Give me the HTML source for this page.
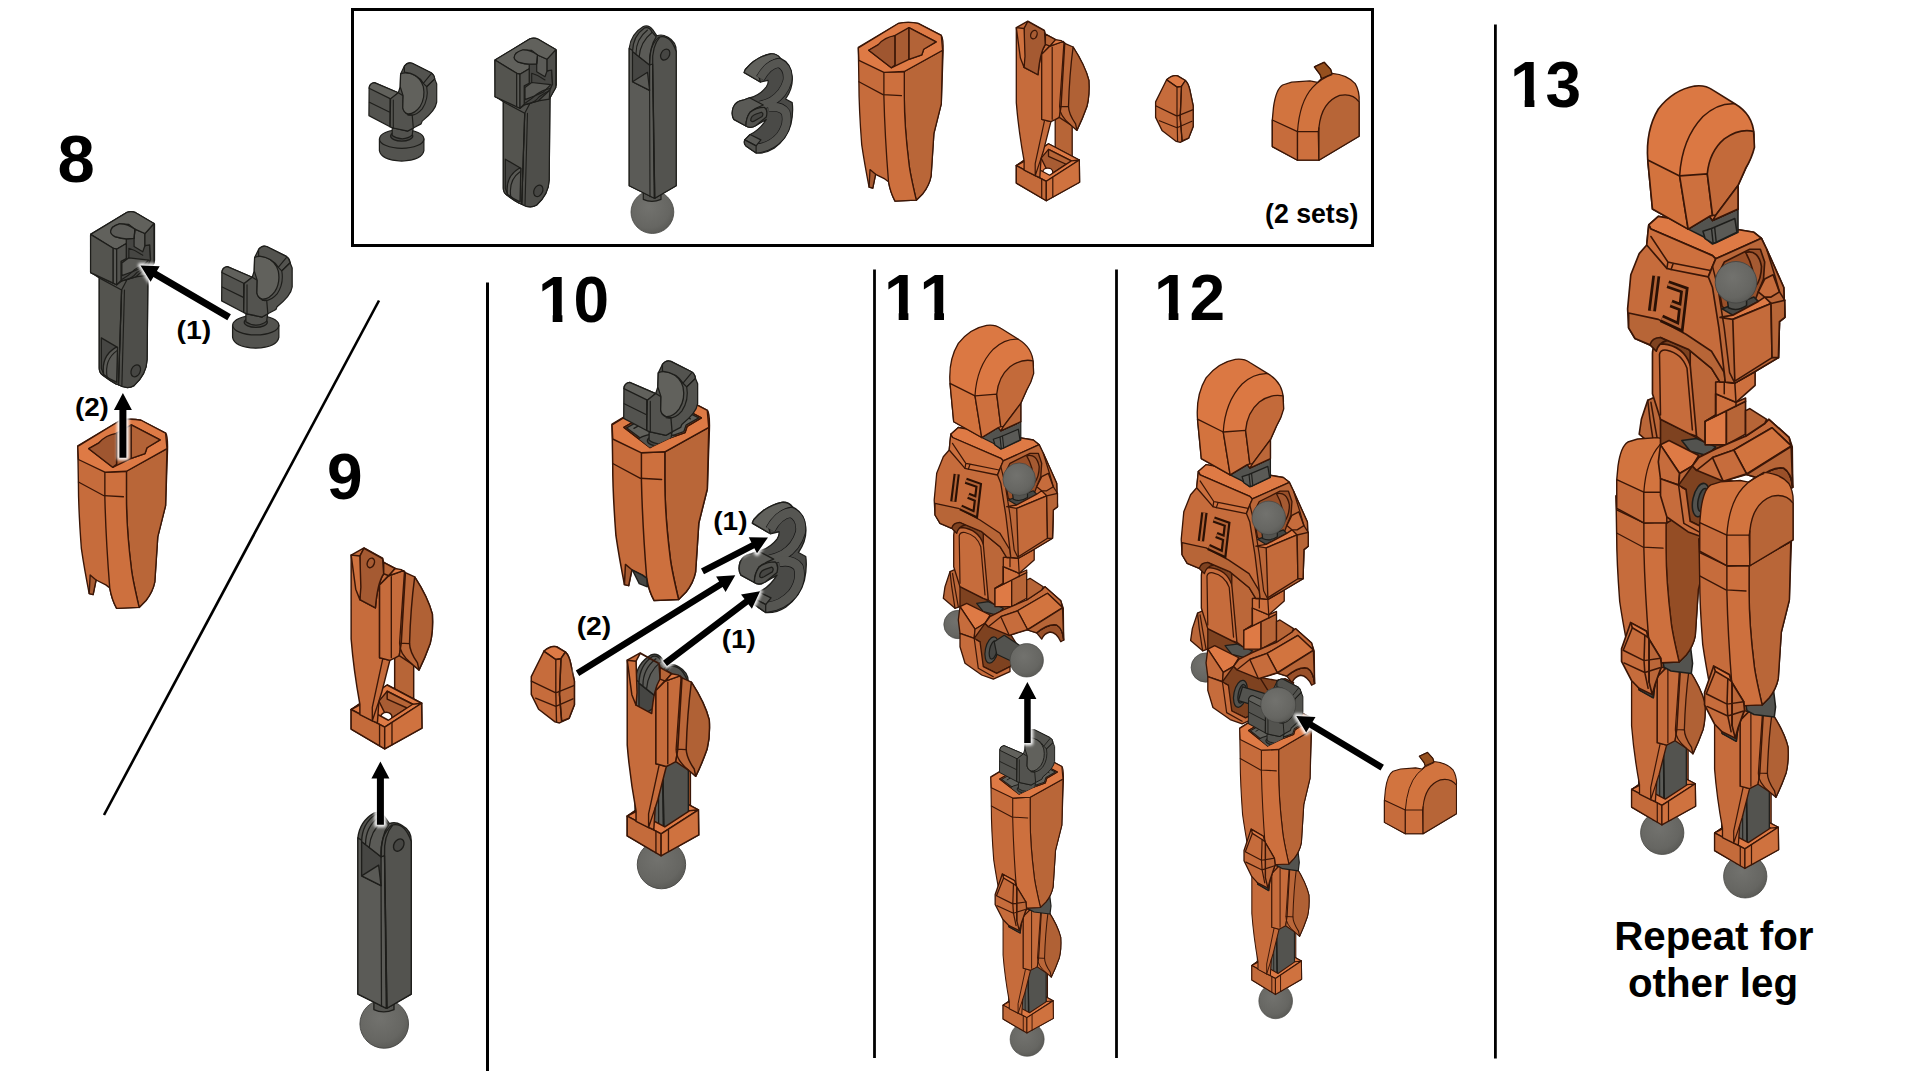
<!DOCTYPE html>
<html><head><meta charset="utf-8"><title>Assembly steps 8-13</title>
<style>
html,body{margin:0;padding:0;background:#fff;}
body{width:1920px;height:1080px;overflow:hidden;}
svg{display:block;}
text{font-family:"Liberation Sans",sans-serif;font-weight:bold;fill:#000;}
.num{font-size:64px;font-kerning:none;}
.lab{font-size:27.5px;}
.lab2{font-size:25.5px;}
.rep{font-size:40.3px;}
.o{fill:#c66c3c;stroke:#3a1607;stroke-width:1.3;stroke-linejoin:round;}
.ol{fill:#de7a45;stroke:#3a1607;stroke-width:1.3;stroke-linejoin:round;}
.od{fill:#a85c33;stroke:#3a1607;stroke-width:1.3;stroke-linejoin:round;}
.g{fill:#53534f;stroke:#1e1e1b;stroke-width:1.2;stroke-linejoin:round;}
.gl{fill:#61615c;stroke:#1e1e1b;stroke-width:1.2;stroke-linejoin:round;}
.gd{fill:#464643;stroke:#1e1e1b;stroke-width:1.2;stroke-linejoin:round;}
.ln{fill:none;stroke:#3a1607;stroke-width:1.2;stroke-linecap:round;stroke-linejoin:round;}
.lg{fill:none;stroke:#1e1e1b;stroke-width:1.1;stroke-linecap:round;stroke-linejoin:round;}
.ar{stroke:#000;stroke-width:5;fill:none;}
</style></head><body>
<svg width="1920" height="1080" viewBox="0 0 1920 1080">
<defs>
<radialGradient id="ball" cx="0.42" cy="0.38" r="0.65">
<stop offset="0" stop-color="#72726e"/><stop offset="0.75" stop-color="#666662"/><stop offset="1" stop-color="#5a5a56"/>
</radialGradient>
<marker id="ah" markerUnits="userSpaceOnUse" markerWidth="30" markerHeight="30" refX="6" refY="12" orient="auto"><path d="M0,0 L24,12 L0,24 Z" fill="#000"/></marker>
<filter id="glow" x="-30%" y="-30%" width="160%" height="160%"><feGaussianBlur stdDeviation="1.6"/></filter>
<clipPath id="c10"><path clip-rule="evenodd" d="M 0 0 H 1920 V 1080 H 0 Z M 540.0 314.3 H 552.7 V 324.0 H 540.0 Z M 562.4 314.3 H 575.0 V 324.0 H 562.4 Z"/></clipPath><clipPath id="c11"><path clip-rule="evenodd" d="M 0 0 H 1920 V 1080 H 0 Z M 886.0 312.3 H 898.7 V 322.0 H 886.0 Z M 908.4 312.3 H 921.0 V 322.0 H 908.4 Z M 921.6 312.3 H 934.3 V 322.0 H 921.6 Z M 944.0 312.3 H 956.6 V 322.0 H 944.0 Z"/></clipPath><clipPath id="c12"><path clip-rule="evenodd" d="M 0 0 H 1920 V 1080 H 0 Z M 1156.0 312.3 H 1168.7 V 322.0 H 1156.0 Z M 1178.4 312.3 H 1191.0 V 322.0 H 1178.4 Z"/></clipPath><clipPath id="c13"><path clip-rule="evenodd" d="M 0 0 H 1920 V 1080 H 0 Z M 1512.0 99.3 H 1524.7 V 109.0 H 1512.0 Z M 1534.4 99.3 H 1547.0 V 109.0 H 1534.4 Z"/></clipPath>
<g id="clip">
<path class="g" d="M 379.4 138.9 L 379.4 150.6 Q 381.1 160.0 401.7 161.1 Q 422.2 160.0 423.9 150.6 L 423.9 138.9 Z"/>
<ellipse class="g" cx="401.7" cy="138.9" rx="22.2" ry="9.4"/>
<ellipse class="gd" cx="401.7" cy="136.1" rx="11.1" ry="5.0"/>
<path class="g" d="M 392.2 127.8 L 392.2 135.6 Q 396.7 138.9 402.2 138.9 Q 408.9 138.3 412.2 135.0 L 413.3 126.7 Z"/>
<path class="g" d="M 369.1 88.3 Q 369.4 83.3 374.4 82.6 L 398.3 92.8 L 400.2 86.7 L 400.6 73.9 L 404.4 66.1 Q 407.8 61.7 412.2 63.3 L 431.1 72.8 Q 434.2 74.7 434.7 78.9 L 436.7 83.9 L 436.7 102.2 Q 435.6 110.6 422.2 121.1 L 421.1 123.9 L 413.3 128.0 L 407.8 131.1 L 393.3 128.0 L 390.0 126.7 L 368.9 115.6 Z"/>
<path class="gl" d="M 369.1 88.3 Q 369.4 83.3 374.4 82.6 L 398.3 92.8 L 390.6 98.9 Z"/>
<path class="g" d="M 390.6 98.9 L 398.3 92.8 L 403.1 95.8 L 402.8 107.8 Q 404.4 115.0 412.2 115.0 L 413.3 128.0 L 407.8 131.1 L 393.3 128.0 L 390.0 126.7 Z"/>
<path class="gl" d="M 400.6 73.9 Q 404.4 71.7 412.2 73.9 Q 420.6 77.8 423.3 86.7 Q 425.6 97.8 420.0 106.7 Q 414.4 114.4 407.8 113.9 Q 403.3 112.2 402.8 107.8 L 403.1 95.8 L 400.2 86.7 Z"/>
<path class="g" d="M 404.4 66.1 Q 407.8 61.7 412.2 63.3 L 431.1 72.8 Q 434.2 74.7 434.7 78.9 L 426.7 86.7 L 423.3 83.3 Q 417.8 73.9 404.4 72.2 Z"/>
<path class="lg" d="M 423.3 83.3 L 431.1 73.9 M 426.7 86.7 L 434.7 78.9 M 369.4 102.2 L 389.8 112.2 M 390.0 98.9 L 390.0 126.7 M 393.3 100.0 L 393.3 127.8 M 426.7 86.7 Q 428.9 98.9 422.2 108.9 Q 415.6 116.7 407.8 115.0"/>
</g>
<g id="bracket">
<path class="g" d="M 495.0 60.8 L 528.3 40.0 Q 533.3 37.5 538.3 40.0 L 556.3 50.3 L 556.3 85.0 L 550.0 96.7 L 549.2 180.0 Q 548.7 194.2 536.7 205.0 Q 530.0 209.2 521.7 204.2 L 519.2 203.3 Q 513.3 200.0 506.7 195.0 Q 503.3 192.5 503.3 188.3 L 503.3 101.7 L 495.8 96.7 Z"/>
<path class="g" d="M 524.7 113.3 L 530.0 103.3 L 550.0 95.0 L 549.2 180.0 Q 548.7 194.2 536.7 205.0 Q 530.0 209.2 521.7 204.2 Z"style="fill:#4e4e4a"/>
<path class="g" d="M 503.3 101.7 L 524.7 113.3 L 521.7 204.2 L 519.2 203.3 Q 513.3 200.0 506.7 195.0 Q 503.3 192.5 503.3 188.3 Z"style="fill:#54544f"/>
<path class="gd" d="M 505.3 159.2 L 520.8 168.3 L 520.0 201.7 Q 513.3 199.2 507.5 194.2 L 505.3 188.3 Z"/>
<path class="g" d="M 507.5 194.2 Q 505.0 176.7 519.2 168.3 L 520.8 168.3 L 520.0 201.7 Q 513.3 199.2 507.5 194.2 Z"style="fill:#5a5a56"/>
<path class="lg" d="M 510.8 196.7 Q 508.3 180.0 520.0 171.7 M 524.7 113.3 L 521.7 204.2 M 527.5 113.3 L 525.0 205.0"/>
<ellipse class="gd" cx="538.3" cy="190.8" rx="4.3" ry="6.0" transform="rotate(25 538.3 190.8)"/>
<path class="g" d="M 495.0 60.0 L 530.0 38.8 Q 534.2 37.3 538.3 39.2 L 555.8 49.6 L 555.8 87.5 L 549.2 99.2 L 538.3 100.8 L 525.0 104.6 L 520.0 108.3 L 516.7 106.7 L 495.0 96.7 Z"/>
<path class="gd" d="M 529.2 64.2 L 536.7 63.8 L 537.5 55.0 L 547.1 59.2 L 547.1 70.8 L 551.7 70.0 L 552.5 84.2 L 550.0 90.0 L 538.3 100.8 L 525.0 104.6 L 524.2 104.2 L 524.2 85.8 L 529.2 83.3 Z"/>
<path class="g" d="M 536.7 63.8 L 537.5 55.0 L 547.1 59.2 L 547.1 70.8 L 545.0 76.7 L 536.7 71.7 Z"style="fill:#5b5b57"/>
<path class="g" d="M 525.0 87.5 L 531.7 82.5 L 550.8 84.6 L 543.3 92.1 L 535.0 95.8 L 525.0 99.6 Z"style="fill:#5a5a56"/>
<path class="lg" d="M 525.0 103.3 Q 531.7 99.2 536.7 94.2 Q 542.5 90.0 550.8 88.3 M 526.7 104.2 Q 535.0 102.5 539.2 96.7 Q 545.0 92.5 550.8 90.0 M 531.7 82.5 L 531.7 73.3 Q 538.3 75.0 545.0 80.0"/>
<path class="g" d="M 547.1 59.2 L 555.8 49.6 L 555.8 87.5 L 549.2 99.2 L 550.0 90.0 L 552.5 84.2 L 551.7 70.0 L 547.1 70.8 Z"style="fill:#4e4e4a"/>
<path class="gl" d="M 495.0 60.0 L 530.0 38.8 Q 534.2 37.3 538.3 39.2 L 555.8 49.6 L 547.1 59.2 L 537.5 55.0 L 531.7 50.4 L 522.5 50.0 L 515.8 53.3 L 514.2 57.5 L 518.3 62.1 L 525.0 63.8 L 529.2 64.2 L 529.2 68.8 L 520.0 74.2 L 516.7 73.3 Z"/>
<path class="g" d="M 514.2 57.5 Q 514.2 52.5 522.5 50.0 Q 530.0 49.6 537.5 55.0 L 536.7 63.8 L 529.2 64.2 Q 525.0 64.2 518.3 62.1 Q 514.2 60.0 514.2 57.5 Z"style="fill:#5b5b57"/>
<path class="lg" d="M 536.7 63.8 L 537.5 55.0"/>
<path class="g" d="M 495.0 60.0 L 516.7 73.3 L 516.7 106.7 L 495.0 96.7 Z"style="fill:#54544f"/>
<path class="g" d="M 516.7 73.3 L 520.0 74.2 L 520.0 108.3 L 516.7 106.7 Z"style="fill:#5a5a56"/>
<path class="g" d="M 520.0 74.2 L 529.2 68.8 L 529.2 83.3 L 524.2 85.8 L 524.2 104.2 L 520.0 108.3 Z"style="fill:#53534f"/>
</g>
<g id="rod">
<circle cx="652.4" cy="212.1" r="21.4" fill="url(#ball)" stroke="#464643" stroke-width="0.8"/>
<path class="g" d="M 643.3 192.1 L 643.3 199.4 Q 651.7 203.5 661.0 199.4 L 661.0 192.1 Z"/>
<path class="g" d="M 629.2 48.3 Q 630.8 33.8 643.3 26.5 Q 648.5 24.4 652.7 29.6 L 656.9 35.8 Q 662.1 33.8 667.3 36.9 Q 676.7 42.1 676.2 51.5 L 676.2 185.8 L 654.8 198.3 L 629.2 185.8 Z"/>
<path class="g" d="M 629.2 48.3 L 632.5 50.4 L 649.6 65.0 L 652.7 64.0 L 654.2 198.3 L 629.2 185.8 Z"style="fill:#5b5b57"/>
<path class="g" d="M 652.7 64.0 Q 651.7 46.2 660.0 36.9 Q 670.4 34.8 676.2 51.5 L 676.2 185.8 L 654.8 198.3 Z"style="fill:#53534f"/>
<path class="gd" d="M 632.5 51.5 L 649.6 65.0 L 649.6 90.4 L 632.5 81.7 Z"/>
<path class="gl" d="M 632.5 81.7 L 647.5 72.3 L 649.6 90.4 Z"style="fill:#5a5a56"/>
<path class="gl" d="M 632.5 51.5 Q 632.9 35.8 644.4 27.9 Q 649.6 26.5 651.7 31.7 L 656.2 36.9 Q 649.6 46.2 649.6 65.0 Z"style="fill:#5b5b57"/>
<path class="lg" d="M 636.0 53.5 Q 636.0 39.0 647.5 30.0 M 639.2 56.7 Q 640.2 42.1 651.7 32.7 M 649.6 65.0 Q 648.5 46.2 659.0 36.9 M 654.8 198.3 L 652.7 64.0 M 650.0 196.7 L 649.6 90.4"/>
<ellipse class="gd" cx="665.2" cy="54.6" rx="4.2" ry="5.8" transform="rotate(30 665.2 54.6)"/>
</g>
<g id="three">
<path class="gd" d="M 744.1 72.5 L 745.3 69.5 Q 756.1 56.8 770.5 53.8 Q 776.6 53.2 780.2 58.0 Q 791.0 62.9 792.2 76.1 Q 793.4 88.1 785.6 99.0 L 792.2 102.6 Q 793.6 112.2 791.0 124.2 Q 787.4 138.7 774.1 148.3 Q 765.7 153.7 756.1 153.1 L 745.9 145.9 Q 743.5 143.5 744.7 139.9 L 750.1 134.5 Q 759.7 130.2 766.3 119.4 L 756.1 125.4 Q 750.1 129.0 745.9 126.0 L 733.8 119.4 Q 730.8 114.6 733.2 107.4 Q 735.6 101.4 742.9 100.2 L 749.5 97.8 Q 759.7 95.3 766.3 86.9 Q 768.7 83.3 768.1 80.3 L 760.3 82.1 L 744.7 73.1 Z"style="fill:#4a4a47"/>
<path class="gl" d="M 744.1 72.5 L 745.3 69.5 Q 756.1 56.8 770.5 53.8 Q 776.6 53.2 780.2 58.0 Q 768.1 59.3 758.5 74.9 L 760.3 82.1 Z"/>
<path d="M 760.3 78.3 Q 768.1 64.1 779.0 62.9 Q 789.2 67.7 787.4 80.9 Q 783.8 94.1 771.7 101.4 Q 765.7 104.4 759.7 105.6" fill="none" stroke="#151515" stroke-width="9.4" stroke-linecap="butt" stroke-linejoin="round"/>
<path d="M 768.1 107.4 Q 780.2 105.0 785.6 112.2 Q 789.2 124.2 780.2 136.3 Q 770.5 147.1 757.3 148.3 L 751.3 144.7" fill="none" stroke="#151515" stroke-width="9.4" stroke-linecap="butt" stroke-linejoin="round"/>
<path d="M 760.3 78.3 Q 768.1 64.1 779.0 62.9 Q 789.2 67.7 787.4 80.9 Q 783.8 94.1 771.7 101.4 Q 765.7 104.4 759.7 105.6" fill="none" stroke="#565652" stroke-width="8.2" stroke-linecap="butt" stroke-linejoin="round"/>
<path d="M 768.1 107.4 Q 780.2 105.0 785.6 112.2 Q 789.2 124.2 780.2 136.3 Q 770.5 147.1 757.3 148.3 L 751.3 144.7" fill="none" stroke="#565652" stroke-width="8.2" stroke-linecap="butt" stroke-linejoin="round"/>
<path class="g" d="M 733.8 119.4 Q 730.8 114.6 733.2 107.4 Q 735.6 101.4 742.9 100.2 L 749.5 97.8 L 763.3 105.0 Q 756.1 107.4 750.1 112.2 Q 745.9 118.2 745.9 126.0 Z"style="fill:#5a5a56"/>
<path class="g" d="M 745.9 126.0 Q 745.9 118.2 750.1 112.2 Q 756.1 107.4 764.5 107.4 Q 768.1 109.8 766.3 117.0 L 756.1 125.4 Q 750.1 129.0 745.9 126.0 Z"/>
<path class="gd" d="M 750.7 120.6 Q 750.7 115.8 756.1 114.0 L 761.5 112.2 Q 763.9 113.4 762.1 116.4 L 756.1 120.0 Q 751.9 123.0 750.7 120.6 Z"/>
<path class="gl" d="M 744.7 139.9 L 750.1 134.5 L 760.9 139.9 L 756.1 145.9 Z"style="fill:#5a5a56"/>
<path class="g" d="M 744.7 139.9 L 756.1 145.9 L 756.1 153.1 L 745.9 145.9 Q 743.5 143.5 744.7 139.9 Z"/>
</g>
<g id="thigh">
<path class="o" d="M 858.3 47.4 L 898.7 23.3 Q 908.0 21.5 918.1 23.3 L 941.3 35.4 Q 943.5 38.1 943.1 52.0 L 941.3 103.9 Q 937.6 118.7 933.9 133.5 L 931.1 176.1 Q 929.3 185.4 922.8 193.7 L 916.3 200.2 L 895.0 201.1 Q 890.4 192.8 888.5 181.7 L 884.8 178.9 L 875.6 174.3 L 872.8 188.1 L 869.1 187.2 Q 864.4 163.1 861.7 144.6 Q 858.9 107.6 858.9 83.5 Z"/>
<path class="od" d="M 870.0 169.6 L 875.6 174.3 L 872.8 188.1 L 869.1 187.2 Z"/>
<path class="o" d="M 904.3 71.5 L 942.6 50.2 L 941.3 103.9 Q 937.6 118.7 933.9 133.5 L 931.1 176.1 Q 929.3 185.4 922.8 193.7 L 916.3 200.2 Q 909.8 172.4 908.9 163.1 Q 904.3 126.1 904.3 96.5 Z"style="fill:#b96638"/>
<path class="o" d="M 883.9 72.4 L 904.3 71.5 L 904.3 96.5 Q 904.3 126.1 908.9 163.1 Q 909.8 172.4 916.3 200.2 L 895.0 201.1 Q 890.4 192.8 888.5 181.7 Q 884.8 135.4 883.9 96.5 Z"style="fill:#cd703e"/>
<path class="ol" d="M 858.3 48.0 L 898.7 23.3 Q 908.0 21.5 918.1 23.3 L 941.3 35.4 L 942.6 50.2 L 904.3 71.5 L 883.9 72.4 L 858.9 60.4 Z"/>
<path class="od" d="M 868.7 50.2 L 908.9 27.6 L 936.1 41.9 L 923.7 49.3 L 921.9 54.8 L 908.9 59.4 L 891.3 67.8 Z"/>
<path class="o" d="M 908.9 27.6 L 936.1 41.9 L 923.7 49.3 L 921.9 54.8 L 908.9 59.4 Z"style="fill:#b36337"/>
<path class="od" d="M 868.7 50.2 L 878.3 44.6 Q 884.8 37.2 895.0 35.7 L 895.0 65.0 L 891.3 67.8 Z"style="fill:#9f5630"/>
<path class="ln" d="M 858.9 81.7 L 883.0 94.6 L 901.5 95.6 M 895.0 35.7 L 895.0 65.0 M 908.9 27.6 L 908.9 59.4"/>
</g>
<g id="athigh_clipdef">
<clipPath id="cpthigh"><path d="M 808.0 -77.6 L 993.1 -77.6 L 993.1 40.9 L 936.1 41.9 L 923.7 49.3 L 921.9 54.8 L 908.9 59.4 L 891.3 67.8 L 868.7 50.2 L 808.0 50.2 Z"/></clipPath>
</g>
<g id="athigh">
<use href="#thigh"/>
<path class="gl" d="M 870.9 50.6 L 908.9 29.4 L 933.9 42.0 L 922.8 48.3 L 920.9 53.9 L 908.9 58.0 L 891.3 65.9 Z"/>
<path class="lg" d="M 877.4 51.1 L 908.9 33.5 L 926.5 42.8"/>
<path class="gd" d="M 876.1 174.6 L 884.8 178.9 L 888.5 181.7 L 889.1 189.1 L 882.0 186.3 Z"/>
<g clip-path="url(#cpthigh)"><use href="#clip" transform="translate(518 -67.4) scale(0.95)"/></g>
</g>
<g id="thigh_rshade">
<path class="o" d="M 904.3 71.5 L 942.6 50.2 L 941.3 103.9 Q 937.6 118.7 933.9 133.5 L 931.1 176.1 Q 929.3 185.4 922.8 193.7 L 916.3 200.2 Q 909.8 172.4 908.9 163.1 Q 904.3 126.1 904.3 96.5 Z"style="fill:#5a2508;fill-opacity:0.38;stroke:none"/>
</g>
<g id="shin">
<path class="o" d="M 1055.2 113.7 L 1072.2 121.1 L 1072.2 158.1 L 1055.2 150.7 Z"style="fill:#b76537"/>
<path class="o" d="M 1016.3 165.6 L 1048.5 143.7 L 1079.3 160.0 L 1079.6 182.2 L 1046.3 200.7 L 1016.3 183.1 Z"/>
<path class="ol" d="M 1016.3 165.6 L 1048.5 143.7 L 1079.3 160.0 L 1046.3 181.3 Z"/>
<path class="od" d="M 1041.1 158.1 L 1048.5 149.3 L 1071.3 160.9 L 1049.6 175.2 Z"/>
<path class="o" d="M 1048.5 149.3 L 1071.3 160.9 L 1071.3 166.5 L 1048.5 156.3 Z"style="fill:#b76537"/>
<ellipse class="o" cx="1047.8" cy="172.2" rx="5.0" ry="4.1" style="fill:#fff"/>
<path class="ol" d="M 1016.3 165.6 L 1046.3 181.3 L 1079.3 160.0 L 1071.3 160.9 L 1049.6 175.2 L 1024.1 161.5 Z"/>
<path class="o" d="M 1016.3 165.6 L 1046.3 181.3 L 1046.3 200.7 L 1016.3 183.1 Z"style="fill:#c46b3b"/>
<path class="o" d="M 1046.3 181.3 L 1079.3 160.0 L 1079.6 182.2 L 1046.3 200.7 Z"style="fill:#cf723f"/>
<path class="ln" d="M 1052.8 177.6 L 1052.8 197.0 M 1041.7 178.9 L 1041.7 198.0"/>
<path class="o" d="M 1016.3 27.6 L 1027.8 21.1 L 1044.4 30.4 L 1045.4 34.1 L 1055.6 39.6 L 1041.7 54.4 L 1041.7 119.3 L 1050.9 121.7 L 1043.5 150.7 L 1041.1 158.1 L 1039.8 177.6 L 1035.2 175.7 L 1024.1 170.2 L 1024.1 160.9 Q 1018.5 130.4 1016.3 102.6 Z M 1024.1 28.5 L 1027.8 21.5 L 1044.4 30.7 L 1045.4 44.3 Q 1039.8 52.6 1038.0 74.8 L 1024.1 67.4 Z"fill-rule="evenodd"/>
<path class="od" d="M 1024.1 28.5 L 1027.8 21.5 L 1044.4 30.7 L 1045.4 44.3 Q 1039.8 52.6 1038.0 74.8 L 1024.1 67.4 Z"style="fill:#a55a32"/>
<ellipse class="od" cx="1033.9" cy="34.6" rx="3.1" ry="4.4" transform="rotate(20 1033.9 34.6)"/>
<path class="o" d="M 1016.3 27.6 L 1024.1 28.5 L 1025.0 56.3 L 1024.1 67.4 L 1020.4 58.1 Z"style="fill:#cf723f"/>
<path class="o" d="M 1045.4 34.1 L 1055.6 39.6 L 1050.0 46.1 L 1045.4 44.3 Z"style="fill:#b76537"/>
<path class="o" d="M 1041.7 54.4 L 1050.0 46.1 L 1063.0 41.5 L 1064.8 43.3 L 1061.1 106.3 L 1059.3 117.4 L 1055.2 119.6 L 1050.9 121.7 L 1041.7 119.3 Z"style="fill:#c66c3c"/>
<path class="ol" d="M 1050.0 46.1 L 1055.6 39.6 L 1061.1 40.6 L 1064.8 43.3 L 1063.0 41.5 Z"/>
<path class="o" d="M 1064.8 43.3 L 1073.1 47.0 Q 1085.2 65.6 1088.9 80.4 Q 1089.8 95.2 1087.0 106.3 Q 1082.4 119.3 1076.9 130.4 L 1070.4 124.8 L 1059.3 117.4 L 1061.1 106.3 Z"style="fill:#bb6739"/>
<path class="od" d="M 1073.1 47.0 Q 1085.2 65.6 1088.9 80.4 Q 1089.8 95.2 1087.0 106.3 Q 1082.4 119.3 1076.9 130.4 L 1075.6 123.9 Q 1068.5 113.7 1068.5 106.3 Q 1069.4 74.8 1073.1 47.0 Z"style="fill:#b06135"/>
<path class="ln" d="M 1052.2 47.0 L 1052.2 119.3 M 1063.9 43.3 L 1059.6 106.3 L 1068.5 106.7 M 1059.6 106.3 Q 1059.3 115.6 1070.4 124.8 M 1041.1 158.1 L 1035.2 175.7 M 1044.4 121.1 L 1035.2 163.7 L 1035.2 175.7"/>
</g>
<g id="ashin">
<path class="o" d="M 1055.2 113.7 L 1072.2 121.1 L 1072.2 158.1 L 1055.2 150.7 Z"style="fill:#b76537"/>
<path class="o" d="M 1016.3 165.6 L 1048.5 143.7 L 1079.3 160.0 L 1079.6 182.2 L 1046.3 200.7 L 1016.3 183.1 Z"/>
<path class="ol" d="M 1016.3 165.6 L 1048.5 143.7 L 1079.3 160.0 L 1046.3 181.3 Z"/>
<path class="od" d="M 1041.1 158.1 L 1048.5 149.3 L 1071.3 160.9 L 1049.6 175.2 Z"/>
<path class="o" d="M 1048.5 149.3 L 1071.3 160.9 L 1071.3 166.5 L 1048.5 156.3 Z"style="fill:#b76537"/><use href="#rod" transform="translate(394.2 -3.6)"/><path class="ol" d="M 1016.3 165.6 L 1046.3 181.3 L 1079.3 160.0 L 1071.3 160.9 L 1049.6 175.2 L 1024.1 161.5 Z"/>
<path class="o" d="M 1016.3 165.6 L 1046.3 181.3 L 1046.3 200.7 L 1016.3 183.1 Z"style="fill:#c46b3b"/>
<path class="o" d="M 1046.3 181.3 L 1079.3 160.0 L 1079.6 182.2 L 1046.3 200.7 Z"style="fill:#cf723f"/>
<path class="ln" d="M 1052.8 177.6 L 1052.8 197.0 M 1041.7 178.9 L 1041.7 198.0"/>
<path class="o" d="M 1016.3 27.6 L 1027.8 21.1 L 1044.4 30.4 L 1045.4 34.1 L 1055.6 39.6 L 1041.7 54.4 L 1041.7 119.3 L 1050.9 121.7 L 1043.5 150.7 L 1041.1 158.1 L 1039.8 177.6 L 1035.2 175.7 L 1024.1 170.2 L 1024.1 160.9 Q 1018.5 130.4 1016.3 102.6 Z M 1024.1 28.5 L 1027.8 21.5 L 1044.4 30.7 L 1045.4 44.3 Q 1039.8 52.6 1038.0 74.8 L 1024.1 67.4 Z"fill-rule="evenodd"/>
<path class="o" d="M 1016.3 27.6 L 1024.1 28.5 L 1025.0 56.3 L 1024.1 67.4 L 1020.4 58.1 Z"style="fill:#cf723f"/>
<path class="o" d="M 1045.4 34.1 L 1055.6 39.6 L 1050.0 46.1 L 1045.4 44.3 Z"style="fill:#b76537"/>
<path class="o" d="M 1041.7 54.4 L 1050.0 46.1 L 1063.0 41.5 L 1064.8 43.3 L 1061.1 106.3 L 1059.3 117.4 L 1055.2 119.6 L 1050.9 121.7 L 1041.7 119.3 Z"style="fill:#c66c3c"/>
<path class="ol" d="M 1050.0 46.1 L 1055.6 39.6 L 1061.1 40.6 L 1064.8 43.3 L 1063.0 41.5 Z"/>
<path class="o" d="M 1064.8 43.3 L 1073.1 47.0 Q 1085.2 65.6 1088.9 80.4 Q 1089.8 95.2 1087.0 106.3 Q 1082.4 119.3 1076.9 130.4 L 1070.4 124.8 L 1059.3 117.4 L 1061.1 106.3 Z"style="fill:#bb6739"/>
<path class="od" d="M 1073.1 47.0 Q 1085.2 65.6 1088.9 80.4 Q 1089.8 95.2 1087.0 106.3 Q 1082.4 119.3 1076.9 130.4 L 1075.6 123.9 Q 1068.5 113.7 1068.5 106.3 Q 1069.4 74.8 1073.1 47.0 Z"style="fill:#b06135"/>
<path class="ln" d="M 1052.2 47.0 L 1052.2 119.3 M 1063.9 43.3 L 1059.6 106.3 L 1068.5 106.7 M 1059.6 106.3 Q 1059.3 115.6 1070.4 124.8 M 1041.1 158.1 L 1035.2 175.7 M 1044.4 121.1 L 1035.2 163.7 L 1035.2 175.7"/>
</g>
<g id="knee">
<path class="o" d="M 1155.6 101.9 L 1166.6 79.8 Q 1172.4 74.6 1177.6 75.9 L 1185.4 80.5 Q 1188.6 83.7 1189.9 90.2 L 1193.2 105.8 L 1193.2 126.5 L 1188.6 138.2 L 1180.2 142.3 L 1176.3 141.4 L 1162.0 130.4 L 1155.6 117.4 Z"/>
<path class="ol" d="M 1166.6 79.8 Q 1172.4 74.6 1177.6 75.9 L 1185.4 80.5 L 1181.5 86.3 L 1177.0 87.0 Z"/>
<path class="o" d="M 1181.5 86.3 L 1185.4 80.5 Q 1188.6 83.7 1189.9 90.2 L 1193.2 105.8 L 1193.2 126.5 L 1188.6 138.2 L 1182.1 140.8 L 1180.2 117.4 Z"style="fill:#bb6739"/>
<path class="ln" d="M 1155.6 105.8 L 1177.0 116.1 L 1193.2 109.6 M 1159.4 120.7 L 1177.0 127.8 L 1191.9 121.3 M 1177.0 87.0 L 1177.0 116.1 L 1177.6 141.4 M 1181.5 86.3 L 1180.2 117.4 L 1182.1 140.8 M 1166.6 79.8 L 1177.0 87.0 L 1181.5 86.3"/>
</g>
<g id="hipcap">
<path class="o" d="M 1272.3 120.0 L 1273.5 107.1 Q 1276.1 88.9 1282.6 85.0 L 1291.7 82.2 L 1309.9 80.9 L 1317.6 82.4 L 1321.5 78.5 L 1320.2 74.6 L 1314.4 66.9 L 1324.1 62.3 L 1330.6 69.4 L 1331.9 73.3 Q 1347.5 74.6 1355.2 83.7 Q 1359.8 91.5 1359.1 101.9 L 1359.1 136.2 L 1318.9 160.2 L 1297.5 160.2 L 1272.3 146.6 Z"style="fill:#d2743f"/>
<path class="od" d="M 1314.4 66.9 L 1324.1 62.3 L 1330.6 69.4 L 1331.9 74.0 L 1321.5 78.5 L 1320.2 74.6 Z"style="fill:#96501f"/>
<path class="o" d="M 1272.3 120.0 L 1297.5 131.7 L 1297.5 160.2 L 1272.3 146.6 Z"style="fill:#c66c3c"/>
<path class="o" d="M 1297.5 131.7 L 1318.3 131.7 L 1318.9 160.2 L 1297.5 160.2 Z"style="fill:#cd703e"/>
<path class="o" d="M 1318.9 160.2 L 1318.9 127.8 Q 1321.5 101.9 1339.7 95.4 Q 1352.6 92.8 1359.1 101.9 L 1359.1 136.2 Z"style="fill:#b76537"/>
<path class="ln" d="M 1297.5 131.7 Q 1299.5 101.9 1312.4 87.6 Q 1321.5 77.9 1331.9 74.6 M 1318.3 131.7 L 1318.9 127.8"/>
</g>
<g id="hipcap_nf">
<path class="o" d="M 1272.3 120.0 L 1273.5 107.1 Q 1276.1 88.9 1282.6 85.0 L 1291.7 82.2 L 1309.9 80.9 L 1317.6 82.4 L 1331.9 73.3 Q 1347.5 74.6 1355.2 83.7 Q 1359.8 91.5 1359.1 101.9 L 1359.1 136.2 L 1318.9 160.2 L 1297.5 160.2 L 1272.3 146.6 Z"style="fill:#d2743f"/>
<path class="o" d="M 1272.3 120.0 L 1297.5 131.7 L 1297.5 160.2 L 1272.3 146.6 Z"style="fill:#c66c3c"/>
<path class="o" d="M 1297.5 131.7 L 1318.3 131.7 L 1318.9 160.2 L 1297.5 160.2 Z"style="fill:#cd703e"/>
<path class="o" d="M 1318.9 160.2 L 1318.9 127.8 Q 1321.5 101.9 1339.7 95.4 Q 1352.6 92.8 1359.1 101.9 L 1359.1 136.2 Z"style="fill:#b76537"/>
<path class="ln" d="M 1297.5 131.7 Q 1299.5 101.9 1312.4 87.6 Q 1321.5 77.9 1331.9 74.6 M 1318.3 131.7 L 1318.9 127.8"/>
</g>
<g id="knee2">
<path class="gd" d="M 1257.6 880.3 L 1267.9 885.5 L 1269.9 880.3 L 1268.6 890.7 L 1257.6 884.2 Z"/>
<path class="o" d="M 1251.1 829.2 L 1263.4 836.3 L 1265.4 842.8 L 1274.4 858.3 L 1275.1 864.8 L 1269.9 880.3 L 1267.9 888.1 L 1257.6 882.9 L 1251.7 876.5 L 1244.0 860.9 L 1244.0 850.5 Z"/>
<path class="ol" d="M 1251.1 829.2 L 1263.4 836.3 L 1264.7 841.5 L 1262.1 839.5 L 1252.4 833.4 Z"/>
<path class="o" d="M 1265.4 842.8 L 1274.4 858.3 L 1275.1 864.8 L 1269.9 880.3 L 1267.9 888.1 L 1265.4 877.8 Z"style="fill:#bb6739"/>
<path class="ln" d="M 1245.3 851.8 L 1261.5 860.3 L 1274.4 858.3 M 1245.9 862.2 L 1262.1 870.0 L 1273.8 866.1 M 1262.1 839.5 L 1261.5 860.3 L 1262.1 870.0 L 1264.7 882.9 M 1265.4 842.8 L 1265.4 877.8 M 1252.4 833.4 L 1245.3 851.8"/>
</g>
<g id="torso_back">
<circle cx="958.0" cy="624.5" r="14.2" fill="url(#ball)" stroke="#464643" stroke-width="0.7"/>
<path class="o" d="M 950.0 571.7 L 957.5 568.3 L 960.0 586.7 L 965.0 593.3 L 960.0 606.7 L 955.0 608.3 L 943.3 598.3 L 945.0 586.7 Z"style="fill:#bb6739"/>
<path class="ln" d="M 952.5 573.3 L 955.0 588.3 L 958.3 606.7 M 950.0 571.7 L 951.7 586.7 L 955.0 608.3"/>
</g>
<g id="torso_wing">
<path class="o" d="M 950.0 571.7 L 957.5 568.3 L 960.0 586.7 L 965.0 593.3 L 960.0 606.7 L 955.0 608.3 L 943.3 598.3 L 945.0 586.7 Z"style="fill:#bb6739"/>
<path class="ln" d="M 952.5 573.3 L 955.0 588.3 L 958.3 606.7 M 950.0 571.7 L 951.7 586.7 L 955.0 608.3"/>
</g>
<g id="torso_under">
<path class="od" d="M 988.3 626.7 L 1006.7 633.3 L 1026.7 637.0 L 1035.0 635.3 L 1043.3 639.2 L 1038.3 653.3 L 1010.0 650.0 L 988.3 640.0 Z"style="fill:#7e4220"/>
</g>
<g id="hipball11">
<path class="g" d="M 994.2 641.7 L 1004.2 635.3 L 1021.7 646.7 L 1014.2 662.5 L 996.7 654.2 Z"/>
<circle cx="1026.7" cy="660.3" r="16.7" fill="url(#ball)" stroke="#464643" stroke-width="0.7"/>
</g>
<g id="torso_a">
<path class="od" d="M 960.0 586.7 L 983.3 598.3 L 995.0 605.0 L 1011.7 606.7 L 1026.7 600.0 L 1041.7 590.0 L 1026.7 606.7 L 1000.0 616.7 L 990.0 616.7 L 960.0 606.7 Z"style="fill:#7e4220"/>
<path class="g" d="M 976.7 603.3 L 988.3 601.7 L 1003.3 608.3 L 996.7 615.0 L 983.3 611.7 Z"/>
<path class="od" d="M 953.7 515.0 L 1013.3 533.3 L 1013.3 570.0 L 960.0 586.7 L 953.7 566.7 Z"style="fill:#7e4220;stroke:none"/>
<path class="o" d="M 953.7 535.0 Q 953.7 527.5 961.7 527.5 Q 978.3 529.2 983.3 544.2 L 988.3 556.7 L 988.3 600.0 L 983.3 598.3 L 960.0 586.7 L 953.7 566.7 Z"/>
<path class="ln" d="M 960.0 583.3 L 959.2 535.8 Q 960.0 531.7 965.0 532.5 Q 976.7 535.0 980.8 546.7 L 985.0 595.0"/>
<path class="o" d="M 983.3 544.2 L 983.3 525.0 L 1013.3 541.7 L 1013.3 566.7 L 1003.3 566.7 L 1003.3 583.3 L 995.0 588.3 L 995.0 605.0 L 988.3 600.0 Z"style="fill:#bb6739"/>
<path class="ol" d="M 995.0 588.3 L 1011.7 580.0 L 1011.7 606.7 L 995.0 606.7 Z"/>
<path class="o" d="M 1011.7 580.0 L 1026.7 572.5 L 1026.7 598.3 L 1011.7 606.7 Z"style="fill:#b76537"/>
<path class="o" d="M 1003.3 566.7 L 1019.2 573.3 L 1026.7 570.0 L 1026.7 572.5 L 1011.7 580.0 L 995.0 588.3 L 1003.3 583.3 Z"style="fill:#cd703e"/>
<path class="ln" d="M 1003.3 566.7 L 1003.3 583.3 M 1019.2 573.3 L 1019.2 576.7"/>
<path class="o" d="M 1010.0 556.7 L 1018.3 558.3 L 1034.2 549.2 L 1034.2 560.0 L 1019.2 573.3 L 1003.3 566.7 L 1003.3 557.5 Z"style="fill:#cd703e"/>
<path class="ln" d="M 1018.3 558.3 L 1019.2 573.3 M 1010.0 556.7 L 1010.0 566.7"/>
<path class="o" d="M 950.8 434.2 L 958.3 427.5 L 1033.3 440.0 L 1039.2 444.7 L 1043.3 453.3 L 1056.7 483.3 L 1057.5 506.7 L 1053.3 510.0 L 1052.5 538.3 L 1034.2 549.2 L 1018.3 558.3 L 1010.8 557.5 L 1006.7 557.5 L 1000.0 546.7 L 981.7 531.7 L 960.0 522.5 L 951.7 528.3 L 940.0 523.3 L 935.0 515.0 L 934.2 500.0 L 936.7 473.3 L 943.3 456.7 L 949.2 450.0 L 950.0 441.7 Z"/>
<path class="ol" d="M 950.8 434.2 L 958.3 427.5 L 1033.3 440.0 L 1039.2 444.7 L 1003.3 460.8 L 1000.8 458.3 L 952.5 437.5 Z"/>
<path class="o" d="M 950.8 434.2 L 952.5 437.5 L 1000.8 458.3 L 1003.3 460.8 L 1000.8 466.7 L 997.5 475.0 L 968.3 469.2 L 965.0 468.3 L 949.2 450.0 L 950.0 441.7 Z"style="fill:#cd703e"/>
<path class="ln" d="M 952.5 443.3 L 965.8 463.3 L 970.0 464.2 L 999.2 470.0 M 965.0 468.3 L 965.8 463.3 M 968.3 469.2 L 970.0 464.2"/>
<path class="o" d="M 935.0 503.3 L 958.3 508.3 L 980.0 520.0 L 1000.0 533.3 L 1010.0 550.0 L 1010.8 557.5 L 1006.7 557.5 L 1000.0 546.7 L 981.7 531.7 L 960.0 522.5 L 951.7 528.3 L 940.0 523.3 L 935.0 515.0 Z"style="fill:#b76537"/>
<path class="od" d="M 951.7 528.3 Q 953.3 522.5 960.0 522.5 L 965.0 525.0 Q 958.3 526.7 956.7 533.3 Z"style="fill:#7e4220"/>
<path class="o" d="M 1000.8 466.7 L 1003.3 460.8 L 1039.2 444.7 L 1043.3 453.3 L 1056.7 483.3 L 1057.5 506.7 L 1053.3 510.0 L 1052.5 538.3 L 1034.2 549.2 L 1018.3 558.3 L 1010.8 557.5 L 1010.0 550.0 L 1005.8 515.0 L 1000.8 483.3 L 997.5 475.0 Z"style="fill:#bb6739"/>
<path class="ln" d="M 1000.8 466.7 L 1005.0 483.3 L 1010.0 515.0 L 1014.2 550.0 L 1018.3 558.3"/>
<path class="od" d="M 1004.2 475.0 L 1010.0 463.3 L 1030.0 453.3 L 1038.3 453.3 L 1041.7 463.3 L 1040.8 476.7 L 1036.7 486.7 L 1034.2 493.3 L 1016.7 503.3 L 1008.3 498.3 Z"style="fill:#9a5029"/>
<path class="od" d="M 1026.7 455.8 Q 1036.7 453.3 1039.2 466.7 Q 1039.2 476.7 1034.2 483.3 Q 1033.3 466.7 1026.7 455.8 Z"style="fill:#a55a32"/>
<path class="gd" d="M 1008.3 500.0 L 1033.3 490.8 L 1036.7 494.2 L 1016.7 505.0 Z"/>
<path class="g" d="M 1012.5 493.3 L 1027.5 490.8 L 1027.5 497.5 Q 1020.0 502.5 1013.3 499.2 Z"/>
<circle cx="1019.2" cy="479.2" r="16.3" fill="url(#ball)" stroke="#464643" stroke-width="0.7"/>
<path class="ol" d="M 1006.7 506.7 L 1016.7 505.0 L 1036.7 494.2 L 1041.7 490.8 L 1046.7 495.8 L 1016.7 508.3 Z"/>
<path class="o" d="M 1016.7 508.3 L 1046.7 495.8 L 1047.5 538.3 L 1018.3 556.7 Z"style="fill:#c46b3b"/>
<path class="o" d="M 1046.7 495.8 L 1057.5 493.3 L 1057.5 506.7 L 1053.3 510.0 L 1052.5 538.3 L 1047.5 538.3 Z"style="fill:#b76537"/>
<path class="o" d="M 1041.7 476.7 L 1048.3 473.3 L 1053.3 486.7 L 1046.7 490.8 L 1041.7 490.8 L 1036.7 486.7 Z"style="fill:#c66c3c"/>
<path class="ln" d="M 1043.3 453.3 L 1050.0 475.0 L 1053.3 486.7 L 1057.5 493.3"/>
<path d="M 956.7 474.2 L 953.3 501.7" fill="none" stroke="#2a1004" stroke-width="6.3" stroke-linejoin="miter"/>
<path d="M 965.8 480.8 L 978.7 485.3 L 975.3 514.2 L 960.8 507.5 M 977.0 499.2 L 968.3 495.8" fill="none" stroke="#2a1004" stroke-width="6.3" stroke-linejoin="miter"/>
<path d="M 956.7 474.2 L 953.3 501.7" fill="none" stroke="#b36337" stroke-width="2.0" stroke-linejoin="miter"/>
<path d="M 965.8 480.8 L 978.7 485.3 L 975.3 514.2 L 960.8 507.5 M 977.0 499.2 L 968.3 495.8" fill="none" stroke="#b36337" stroke-width="2.0" stroke-linejoin="miter"/>
<path class="g" d="M 981.7 437.5 L 998.3 427.5 L 1000.8 430.8 L 1020.8 421.7 L 1020.8 440.0 L 1003.3 448.3 L 1000.8 449.2 L 993.3 443.3 Z"/>
<path class="gl" d="M 993.3 439.2 L 1000.0 437.0 L 1018.3 429.2 L 1020.0 440.0 L 1003.3 448.0 L 1000.8 448.7 L 995.0 445.0 Z"style="fill:#5a5a56"/>
<path class="lg" d="M 1000.0 437.0 L 1001.3 448.7 M 1002.5 436.3 L 1003.7 447.7"/>
<path class="o" d="M 950.0 383.3 Q 948.3 360.0 958.3 343.3 Q 970.0 328.3 986.7 325.3 Q 995.0 324.2 1000.8 328.3 L 1018.3 339.2 Q 1032.5 347.5 1033.3 363.3 Q 1034.2 376.7 1026.7 390.0 L 1020.8 403.3 L 1020.8 421.7 L 1000.8 430.8 L 998.3 427.5 L 981.7 437.5 L 953.7 421.7 Z"style="fill:#db7843"/>
<path class="o" d="M 950.0 383.3 L 975.0 395.8 L 981.7 437.5 L 953.7 421.7 Z"style="fill:#d3733e"/>
<path class="o" d="M 975.0 395.8 L 996.7 394.2 L 1000.8 426.7 L 998.3 427.5 L 981.7 437.5 Z"style="fill:#cd703e"/>
<path class="o" d="M 996.7 394.2 Q 998.3 376.7 1010.0 366.7 Q 1021.7 358.3 1033.0 360.8 L 1033.7 373.3 Q 1031.7 381.7 1026.7 390.0 L 1020.8 403.3 L 1003.3 426.7 L 1000.8 426.7 Z"style="fill:#c36a3a"/>
<path class="o" d="M 1020.8 403.3 L 1020.8 421.7 L 1000.8 430.8 L 1003.3 426.7 Z"style="fill:#bb6739"/>
<path class="ln" d="M 975.0 395.8 Q 976.7 366.7 993.3 349.2 Q 1005.0 338.3 1018.3 339.2"/>
<path class="ol" d="M 960.0 606.7 L 966.7 603.3 L 990.0 615.0 L 985.0 623.3 L 975.0 629.2 Z"/>
<path class="o" d="M 960.0 606.7 L 975.0 629.2 L 974.2 638.3 L 960.0 633.3 L 958.3 620.0 Z"/>
<path class="o" d="M 975.0 629.2 L 985.0 623.3 L 988.3 626.7 L 986.7 633.3 L 974.2 638.3 Z"style="fill:#bb6739"/>
<path class="od" d="M 974.2 638.3 L 985.0 623.3 L 1010.0 633.3 L 1018.3 646.7 L 1016.7 655.0 L 1010.0 666.7 L 996.7 673.3 L 983.3 666.7 Z"style="fill:#7e4220"/>
<ellipse class="g" cx="991.7" cy="650.0" rx="6.3" ry="13.3" transform="rotate(12 991.7 650.0)"/>
<ellipse class="gd" cx="993.3" cy="650.0" rx="3.7" ry="9.2" transform="rotate(12 993.3 650.0)"/>
</g>
<g id="torso_b">
<path class="o" d="M 960.0 633.3 L 974.2 638.3 L 980.0 641.7 L 983.3 666.7 L 996.7 673.3 L 1010.0 666.7 L 1010.0 671.7 L 993.3 679.2 L 981.7 675.0 L 965.0 663.3 L 960.0 646.7 Z"/>
<path class="ln" d="M 974.2 638.3 L 978.3 668.3 L 993.3 676.7 M 980.0 641.7 L 976.7 640.0"/>
<path class="od" d="M 1036.7 632.8 Q 1048.3 623.3 1056.7 625.0 Q 1062.5 628.3 1063.7 640.0 L 1060.8 641.7 Q 1056.7 632.5 1050.0 632.0 Q 1044.2 633.3 1041.7 639.2 Z"style="fill:#9a5029"/>
<path class="o" d="M 985.0 623.3 L 990.0 616.7 L 1003.3 610.0 L 1026.7 600.0 L 1041.7 590.0 L 1045.0 586.7 L 1060.8 600.8 L 1063.3 608.3 L 1063.7 640.0 Q 1062.5 628.3 1056.7 625.0 Q 1048.3 623.3 1036.7 632.8 L 1027.5 630.0 L 1009.2 635.3 L 988.3 626.7 Z"/>
<path class="o" d="M 990.0 616.7 L 1003.3 610.0 L 1026.7 600.0 L 1041.7 590.0 L 1045.0 586.7 L 1060.8 600.8 L 1062.5 607.5 L 1047.5 593.3 L 1017.5 610.8 L 1000.8 616.7 L 988.3 626.7 L 985.0 623.3 Z"style="fill:#c46b3b"/>
<path class="o" d="M 1017.5 610.8 L 1047.5 593.3 L 1062.5 607.5 L 1027.5 629.5 Z"style="fill:#d2743f"/>
<path class="o" d="M 1000.8 616.7 L 1017.5 610.8 L 1027.5 629.5 L 1009.2 635.3 Z"style="fill:#c66c3c"/>
<path class="o" d="M 1027.5 630.0 L 1062.5 608.0 L 1063.7 640.0 Q 1062.5 628.3 1056.7 625.0 Q 1048.3 623.3 1036.7 632.8 Z"style="fill:#b76537"/>
<path class="o" d="M 1026.7 580.0 L 1030.0 578.3 L 1043.3 586.7 L 1041.7 590.0 L 1026.7 600.0 Z"style="fill:#b76537"/>
</g>
</defs>
<rect width="1920" height="1080" fill="#fff"/>
<!-- frame lines -->
<g id="frame" stroke="#000" fill="none">
<rect x="352.5" y="9.5" width="1020" height="236" stroke-width="3"/>
<line x1="487.5" y1="282.5" x2="487.5" y2="1071" stroke-width="3"/>
<line x1="874.5" y1="269.5" x2="874.5" y2="1058" stroke-width="2.8"/>
<line x1="1116.5" y1="269.5" x2="1116.5" y2="1058" stroke-width="2.8"/>
<line x1="1495.4" y1="24.5" x2="1495.4" y2="1058.5" stroke-width="2.8"/>
<line x1="379" y1="300.5" x2="104" y2="815" stroke-width="2.6"/>
</g>
<use href="#clip"/>
<use href="#bracket"/>
<use href="#rod"/>
<use href="#three"/>
<use href="#thigh"/>
<use href="#shin"/>
<use href="#knee"/>
<use href="#hipcap"/>
<use href="#bracket" transform="translate(-425.7 171.8) scale(1.043)"/>
<use href="#clip" transform="translate(-162.0 180.7) scale(1.04)"/>
<use href="#thigh" transform="translate(-830.3 395.6) scale(1.058)"/>
<path d="M 230.9 314.3 L 156.9 271.0 L 159.7 266.2 L 140.5 265.4 L 150.6 281.8 L 153.4 277.0 L 227.3 320.3 Z" fill="#fff" stroke="#fff" stroke-width="5" stroke-linejoin="round" filter="url(#glow)" opacity="0.95"/><path d="M 230.9 314.3 L 156.9 271.0 L 159.7 266.2 L 140.5 265.4 L 150.6 281.8 L 153.4 277.0 L 227.3 320.3 Z" fill="#000"/>
<path d="M 126.4 457.8 L 126.4 409.9 L 131.9 409.9 L 122.9 392.9 L 113.9 409.9 L 119.4 409.9 L 119.4 457.8 Z" fill="#fff" stroke="#fff" stroke-width="5" stroke-linejoin="round" filter="url(#glow)" opacity="0.95"/><path d="M 126.4 457.8 L 126.4 409.9 L 131.9 409.9 L 122.9 392.9 L 113.9 409.9 L 119.4 409.9 L 119.4 457.8 Z" fill="#000"/>
<use href="#shin" transform="translate(-786.1 524.2) scale(1.119)"/>
<use href="#rod" transform="translate(-356.9 783.0) scale(1.136)"/>
<path d="M 383.9 824.8 L 383.9 778.5 L 389.4 778.5 L 380.4 761.5 L 371.4 778.5 L 376.9 778.5 L 376.9 824.8 Z" fill="#fff" stroke="#fff" stroke-width="5" stroke-linejoin="round" filter="url(#glow)" opacity="0.95"/><path d="M 383.9 824.8 L 383.9 778.5 L 389.4 778.5 L 380.4 761.5 L 371.4 778.5 L 376.9 778.5 L 376.9 824.8 Z" fill="#000"/>
<use href="#ashin" transform="translate(-521.2 629.0) scale(1.13)"/>
<use href="#athigh" transform="translate(-373.3 369.7) scale(1.148)"/>
<use href="#three" transform="translate(-73.6 442.6) scale(1.11)"/>
<use href="#knee" transform="translate(-794.2 559.7) scale(1.147)"/>
<path d="M 704.0 574.2 L 754.4 548.2 L 757.0 553.3 L 768.0 537.5 L 748.8 537.3 L 751.4 542.4 L 701.0 568.4 Z" fill="#fff" stroke="#fff" stroke-width="5" stroke-linejoin="round" filter="url(#glow)" opacity="0.95"/><path d="M 704.0 574.2 L 754.4 548.2 L 757.0 553.3 L 768.0 537.5 L 748.8 537.3 L 751.4 542.4 L 701.0 568.4 Z" fill="#000"/>
<path d="M 579.2 676.1 L 722.6 587.0 L 725.6 591.9 L 735.3 575.3 L 716.1 576.6 L 719.1 581.5 L 575.8 670.5 Z" fill="#fff" stroke="#fff" stroke-width="5" stroke-linejoin="round" filter="url(#glow)" opacity="0.95"/><path d="M 579.2 676.1 L 722.6 587.0 L 725.6 591.9 L 735.3 575.3 L 716.1 576.6 L 719.1 581.5 L 575.8 670.5 Z" fill="#000"/>
<path d="M 667.0 665.9 L 748.4 604.2 L 751.9 608.7 L 760.0 591.3 L 741.0 594.4 L 744.5 599.0 L 663.0 660.7 Z" fill="#fff" stroke="#fff" stroke-width="5" stroke-linejoin="round" filter="url(#glow)" opacity="0.95"/><path d="M 667.0 665.9 L 748.4 604.2 L 751.9 608.7 L 760.0 591.3 L 741.0 594.4 L 744.5 599.0 L 663.0 660.7 Z" fill="#000"/>
<g transform="translate(0 0)">
<use href="#torso_back"/>
<use href="#torso_a"/>
<use href="#hipball11"/>
<use href="#torso_b"/>
</g>
<g transform="translate(0.0 0.0) scale(1.0)">
<g transform="translate(0.0 0.0)"><use href="#ashin" transform="translate(195.1 873.5) scale(0.795)"/></g>
<path class="g" transform="translate(0 0.0)" d="M 1027 901 L 1036 897 L 1044 896 L 1049 889.5 L 1051 906 L 1050 914 L 1034 912 L 1028.5 909 Z"/>
<use href="#athigh" transform="translate(256.1 736.1) scale(0.856)"/>
<g transform="translate(-261.4 76.7) scale(1.0101 0.9615)"><use href="#knee2"/></g>
</g>
<path d="M 1030.7 743.0 L 1030.7 699.0 L 1036.4 699.0 L 1027.4 682.0 L 1018.4 699.0 L 1024.2 699.0 L 1024.2 743.0 Z" fill="#fff" stroke="#fff" stroke-width="5" stroke-linejoin="round" filter="url(#glow)" opacity="0.95"/><path d="M 1030.7 743.0 L 1030.7 699.0 L 1036.4 699.0 L 1027.4 682.0 L 1018.4 699.0 L 1024.2 699.0 L 1024.2 743.0 Z" fill="#000"/>
<g transform="translate(219 24.3) scale(1.03)">
<use href="#torso_back"/>
<use href="#torso_under"/>
<use href="#torso_a"/>
<path class="g" d="M 989.7 656.7 L 1026.4 667.6 L 1030.4 654.2 L 993.7 643.3 Z"/><circle cx="1028.4" cy="660.9" r="17.0" fill="url(#ball)" stroke="#464643" stroke-width="0.7"/>
<use href="#torso_b"/>
</g>
<g transform="translate(258.8 -79.8) scale(0.99 1.04)">
<g transform="translate(0.0 0.0)"><use href="#ashin" transform="translate(195.1 873.5) scale(0.795)"/></g>
<path class="g" transform="translate(0 0.0)" d="M 1027 901 L 1036 897 L 1044 896 L 1049 889.5 L 1051 906 L 1050 914 L 1034 912 L 1028.5 909 Z"/>
<use href="#athigh" transform="translate(256.1 736.1) scale(0.856)"/>
<g transform="translate(-261.4 76.7) scale(1.0101 0.9615)"><use href="#knee2"/></g>
</g>
<g transform="translate(219 24.3) scale(1.03)"><path class="g" d="M 1023.6 659.9 L 1028.0 661.8 L 1028.8 660.0 L 1024.4 658.1 Z"/><circle cx="1028.4" cy="660.9" r="17.0" fill="url(#ball)" stroke="#464643" stroke-width="0.7"/></g>
<use href="#hipcap" transform="translate(328.4 700.7) scale(0.83)"/>
<path d="M 1383.9 764.8 L 1312.5 721.9 L 1315.5 717.0 L 1296.3 715.9 L 1306.2 732.4 L 1309.2 727.5 L 1380.5 770.4 Z" fill="#fff" stroke="#fff" stroke-width="5" stroke-linejoin="round" filter="url(#glow)" opacity="0.95"/><path d="M 1383.9 764.8 L 1312.5 721.9 L 1315.5 717.0 L 1296.3 715.9 L 1306.2 732.4 L 1309.2 727.5 L 1380.5 770.4 Z" fill="#000"/>
<g transform="translate(436.5 -328.7) scale(1.275)"><use href="#torso_wing"/></g>
<g transform="translate(355.7 -489.1) scale(1.272)">
<g transform="translate(0.0 0.0)"><use href="#ashin" transform="translate(195.1 873.5) scale(0.795)"/></g>
<path class="g" transform="translate(0 0.0)" d="M 1027 901 L 1036 897 L 1044 896 L 1049 889.5 L 1051 906 L 1050 914 L 1034 912 L 1028.5 909 Z"/>
<use href="#thigh" transform="translate(256.1 733.6) scale(0.856)"/>
<use href="#thigh_rshade" transform="translate(256.1 733.6) scale(0.856)"/>
<use href="#hipcap_nf" transform="translate(-83.7 660.2) scale(0.845)"/>
<g transform="translate(-261.4 76.7) scale(1.0101 0.9615)"><use href="#knee2"/></g>
</g>
<g transform="translate(436.5 -328.7) scale(1.275)">
<use href="#torso_under"/>
<use href="#torso_a"/>

<use href="#torso_b"/>
</g>
<g transform="translate(438.7 -445.6) scale(1.272)">
<g transform="translate(0.0 0.0)"><use href="#ashin" transform="translate(195.1 873.5) scale(0.795)"/></g>
<path class="g" transform="translate(0 0.0)" d="M 1027 901 L 1036 897 L 1044 896 L 1049 889.5 L 1051 906 L 1050 914 L 1034 912 L 1028.5 909 Z"/>
<use href="#thigh" transform="translate(256.1 733.1) scale(0.856)"/>
<use href="#hipcap_nf" transform="translate(-83.7 659.7) scale(0.845)"/>
<g transform="translate(-261.4 76.7) scale(1.0101 0.9615)"><use href="#knee2"/></g>
</g>
<!-- TEXT -->
<g id="labels">
<text class="num" x="57.5" y="181.5" style="font-size:67px">8</text>
<text class="num" x="327" y="499">9</text>
<text class="num" x="538" y="322" clip-path="url(#c10)">10</text>
<text class="num" x="884" y="320" clip-path="url(#c11)">11</text>
<text class="num" x="1154" y="320" clip-path="url(#c12)">12</text>
<text class="num" x="1510" y="107" clip-path="url(#c13)">13</text>
<text class="lab2" x="176.5" y="339.1" textLength="34.7" lengthAdjust="spacingAndGlyphs">(1)</text>
<text class="lab2" x="74.9" y="415.6" textLength="34" lengthAdjust="spacingAndGlyphs">(2)</text>
<text class="lab2" x="713.3" y="530" textLength="34.2" lengthAdjust="spacingAndGlyphs">(1)</text>
<text class="lab2" x="721.7" y="647.5" textLength="34.2" lengthAdjust="spacingAndGlyphs">(1)</text>
<text class="lab2" x="576.7" y="634.7" textLength="34.6" lengthAdjust="spacingAndGlyphs">(2)</text>
<text class="lab" x="1265" y="222.7" textLength="93.5" lengthAdjust="spacingAndGlyphs">(2 sets)</text>
<text class="rep" x="1713.8" y="950" text-anchor="middle">Repeat for</text>
<text class="rep" x="1713" y="997.4" text-anchor="middle">other leg</text>
</g>
</svg>
</body></html>
